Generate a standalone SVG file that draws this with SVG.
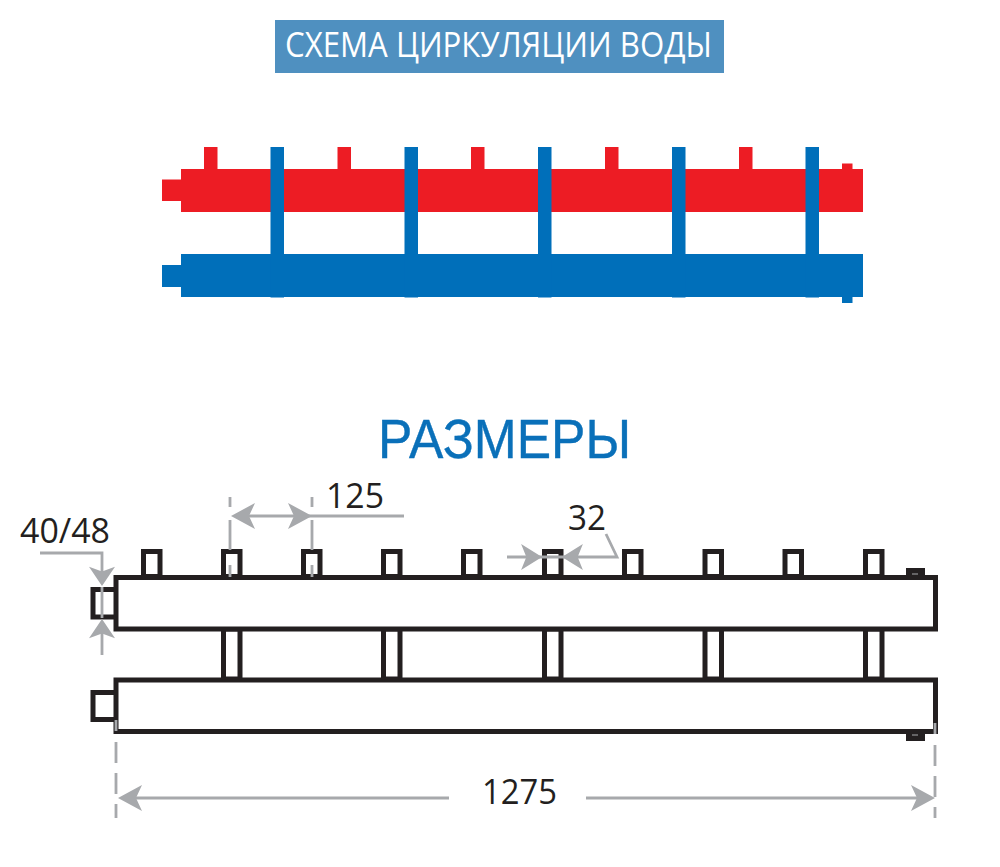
<svg xmlns="http://www.w3.org/2000/svg" width="1000" height="867" viewBox="0 0 1000 867">
<style>
.t{font-family:"Open Sans","Liberation Sans",sans-serif}
.d{font-size:34.5px;fill:#231f20}
.r{fill:#ed1c24}
.b{fill:#006fba}
.k{fill:#fff;stroke:#231f20;stroke-width:5}
.g{fill:none;stroke:#a7a9ac;stroke-width:2.8}
.gd{fill:none;stroke:#a7a9ac;stroke-width:2.8;stroke-dasharray:21 10}
.a{fill:#a7a9ac}
</style>
<defs>
<rect id="rs" class="r" width="13.5" height="23"/>
<rect id="bp" class="b" width="13.5" height="150.500"/>
<rect id="st" class="k" width="16.500" height="25"/>
<rect id="lk" class="k" width="16.500" height="50"/>
<path id="ah" class="a" d="M0 0L24 -13L18 0L24 13Z"/>
</defs>
<rect width="1000" height="867" fill="#fff"/>
<g id="title">
<rect x="275" y="20" width="449" height="53" fill="#4f90c0"/>
<text class="t" x="285" y="57" font-size="34" fill="#fff" textLength="427" lengthAdjust="spacingAndGlyphs">СХЕМА ЦИРКУЛЯЦИИ ВОДЫ</text>
</g>
<g id="supply-manifold">
<rect class="r" x="162" y="179.500" width="20" height="21.500"/>
<rect class="r" x="181" y="169" width="682" height="43"/>
<use href="#rs" x="204" y="147"/>
<use href="#rs" x="337.500" y="147"/>
<use href="#rs" x="471" y="147"/>
<use href="#rs" x="605" y="147"/>
<use href="#rs" x="739" y="147"/>
<rect class="r" x="842" y="163.500" width="10.500" height="6"/>
</g>
<g id="return-manifold">
<rect class="b" x="162" y="265" width="20" height="22"/>
<rect class="b" x="181" y="254" width="682" height="43"/>
<rect class="b" x="842" y="296" width="10.500" height="7"/>
</g>
<g id="risers">
<use href="#bp" x="270.500" y="147"/>
<use href="#bp" x="404.500" y="147"/>
<use href="#bp" x="538" y="147"/>
<use href="#bp" x="672" y="147"/>
<use href="#bp" x="805.500" y="147"/>
</g>
<g id="dimensions-title">
<text x="378" y="458" font-family="'Liberation Sans',sans-serif" font-size="56" fill="#0a70b9" stroke="#0a70b9" stroke-width="0.4" textLength="253" lengthAdjust="spacingAndGlyphs">РАЗМЕРЫ</text>
</g>
<g id="upper-stubs">
<use href="#st" x="143.500" y="551.500"/>
<use href="#st" x="223.500" y="551.500"/>
<use href="#st" x="303.500" y="551.500"/>
<use href="#st" x="383.500" y="551.500"/>
<use href="#st" x="463.500" y="551.500"/>
<use href="#st" x="544.500" y="551.500"/>
<use href="#st" x="624.500" y="551.500"/>
<use href="#st" x="705" y="551.500"/>
<use href="#st" x="785" y="551.500"/>
<use href="#st" x="865.500" y="551.500"/>
</g>
<g id="links">
<use href="#lk" x="223.500" y="629"/>
<use href="#lk" x="383.500" y="629"/>
<use href="#lk" x="544.500" y="629"/>
<use href="#lk" x="705" y="629"/>
<use href="#lk" x="865.500" y="629"/>
</g>
<g id="upper-body">
<rect class="k" x="93" y="589.500" width="24" height="27.500"/>
<rect x="906" y="568" width="19" height="9" fill="#231f20"/>
<rect x="912" y="573.500" width="6" height="1" fill="#a7a9ac"/>
<rect class="k" x="116" y="577.500" width="819.500" height="51.500"/>
</g>
<g id="lower-body">
<rect class="k" x="93" y="692.500" width="24" height="27"/>
<rect x="906" y="731" width="19" height="10" fill="#231f20"/>
<rect x="912" y="734.500" width="6" height="1" fill="#a7a9ac"/>
<rect class="k" x="116" y="680" width="819.500" height="51.500"/>
</g>
<g id="connectors">
<path class="g" d="M40 553H102V576M102 587V618M102 628V655"/>
<use href="#ah" transform="translate(102 586) rotate(-90) scale(0.8 1)"/>
<use href="#ah" transform="translate(102 619) rotate(90) scale(0.8 1)"/>
<path class="g" d="M230 497V507M230 520V550M230 565V577M312 497V507M312 520V550M312 565V577M240 516H404"/>
<use href="#ah" transform="translate(231 516)"/>
<use href="#ah" transform="translate(312 516) rotate(180)"/>
<path class="g" d="M507 557H617L606 534"/>
<use href="#ah" transform="translate(542 557) rotate(180) scale(0.87 1)"/>
<use href="#ah" transform="translate(562 557) scale(0.87 1)"/>
<path class="g" d="M116 720V731M935 723V734"/>
<path class="gd" d="M116 742V818M935 745V818"/>
<path class="g" d="M130 798H449M586 798H920"/>
<use href="#ah" transform="translate(118 798)"/>
<use href="#ah" transform="translate(935 798) rotate(180)"/>
</g>
<g id="labels">
<text class="t d" x="20" y="542.500" textLength="90" lengthAdjust="spacingAndGlyphs">40/48</text>
<text class="t d" x="326" y="508" textLength="58" lengthAdjust="spacingAndGlyphs">125</text>
<text class="t d" x="568" y="530" textLength="38" lengthAdjust="spacingAndGlyphs">32</text>
<text class="t d" x="482" y="804" textLength="75" lengthAdjust="spacingAndGlyphs">1275</text>
</g>
</svg>
